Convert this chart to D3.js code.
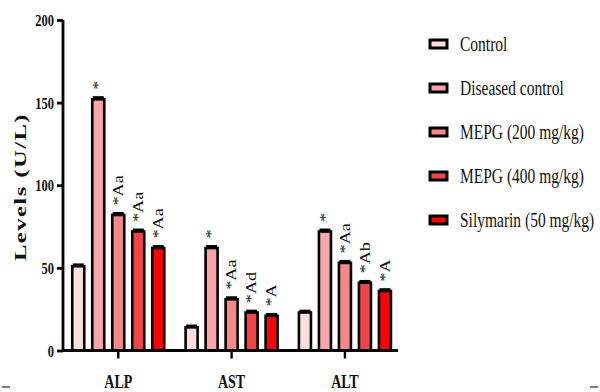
<!DOCTYPE html>
<html>
<head>
<meta charset="utf-8">
<script src="https://cdn.jsdelivr.net/npm/d3@7"></script>
<style>
  html, body { margin: 0; padding: 0; background: #fff; }
  svg { display: block; }
  text { font-family: "Liberation Serif", "Times New Roman", serif; fill: #111; }
</style>
</head>
<body>
<svg id="chart" width="600" height="392"></svg>
<script>
// Liver enzyme levels (U/L) by treatment group
const categories = ["ALP", "AST", "ALT"];
const groups = ["Control", "Diseased control", "MEPG (200 mg/kg)", "MEPG (400 mg/kg)", "Silymarin (50 mg/kg)"];
const controlValues   = [51, 14, 23];
const diseasedValues  = [152, 62, 72];
const mepg200Values   = [82, 31, 53];
const mepg400Values   = [72, 23, 41];
const silymarinValues = [62, 21, 36];
const seriesValues = [controlValues, diseasedValues, mepg200Values, mepg400Values, silymarinValues];
const seriesErrors = [[0.8, 0.8, 0.8], [1, 0.9, 0.9], [0.9, 0.9, 0.9], [0.9, 0.8, 0.8], [0.9, 0.8, 0.8]];
// significance marks per group (rows) and enzyme (columns)
const significance = [
  ["", "", ""],
  ["*", "*", "*"],
  ["*Aa", "*Aa", "*Aa"],
  ["*Aa", "*Ad", "*Ab"],
  ["*Aa", "*A", "*A"]
];
const yTicks = [0, 50, 100, 150, 200];
const colors = ["#fbdfe0", "#f6a6a9", "#f3878a", "#ee4547", "#f70404"];

const svg = d3.select("#chart");
const STRETCH = 1.3;

const y = d3.scaleLinear().domain([0, 200]).range([350.5, 20]);
const x = d3.scaleBand().domain(categories).range([61.6, 401.6]);
const xInner = d3.scaleBand().domain(groups).range([-50, 50]).paddingInner(0.4).paddingOuter(0.2);

// Bars
const rows = [];
categories.forEach((c, ci) => {
  groups.forEach((g, gi) => {
    rows.push({ cat: c, group: g, gi, value: seriesValues[gi][ci], err: seriesErrors[gi][ci], label: significance[gi][ci] });
  });
});

const barG = svg.append("g");
const bw = xInner.bandwidth();
barG.selectAll("rect.bar").data(rows).join("rect")
  .attr("class", "bar")
  .attr("x", d => x(d.cat) + x.bandwidth() / 2 + xInner(d.group))
  .attr("y", d => y(d.value))
  .attr("width", bw)
  .attr("height", d => y(0) - y(d.value))
  .attr("fill", d => colors[d.gi])
  .attr("stroke", "#000")
  .attr("stroke-width", 2.6);

// Error bars (upper)
const cx = d => x(d.cat) + x.bandwidth() / 2 + xInner(d.group) + bw / 2;
barG.selectAll("line.err").data(rows).join("line")
  .attr("class", "err")
  .attr("x1", cx).attr("x2", cx)
  .attr("y1", d => y(d.value)).attr("y2", d => y(d.value + d.err))
  .attr("stroke", "#000").attr("stroke-width", 2);
barG.selectAll("line.cap").data(rows).join("line")
  .attr("class", "cap")
  .attr("x1", d => cx(d) - bw / 2 + 0.5).attr("x2", d => cx(d) + bw / 2 - 0.5)
  .attr("y1", d => y(d.value + d.err)).attr("y2", d => y(d.value + d.err))
  .attr("stroke", "#000").attr("stroke-width", 3);

// Significance labels, vertical
barG.selectAll("text.sig").data(rows.filter(d => d.label)).join("text")
  .attr("class", "sig")
  .attr("transform", d => `translate(${cx(d)},${y(d.value + d.err) - 8}) scale(1,${STRETCH}) rotate(-90)`)
  .attr("dy", "0.33em")
  .attr("font-size", 14)
  .text(d => d.label);

// Y axis
const yAxis = svg.append("g")
  .attr("transform", "translate(63,0)")
  .call(d3.axisLeft(y).tickValues(yTicks).tickSize(6).tickSizeOuter(0).tickPadding(3));
yAxis.select(".domain").attr("stroke", "#000").attr("stroke-width", 2.8).attr("d", `M0,${y(200)}V${y(0) + 1.4}`);
yAxis.selectAll(".tick line").attr("stroke", "#000").attr("stroke-width", 2.8);
yAxis.selectAll(".tick text")
  .attr("font-family", "'Liberation Serif', serif")
  .attr("font-size", 12.5)
  .attr("font-weight", "bold")
  .attr("fill", "#111")
  .attr("dy", "0.34em")
  .attr("transform", `scale(1,${STRETCH})`);

// X axis
const xAxis = svg.append("g")
  .attr("transform", `translate(0,${y(0)})`)
  .call(d3.axisBottom(x).tickSize(8).tickSizeOuter(0));
xAxis.select(".domain").attr("stroke", "#000").attr("stroke-width", 2.8).attr("d", "M62,0H398");
xAxis.selectAll(".tick line").attr("stroke", "#000").attr("stroke-width", 2.4);
xAxis.selectAll(".tick text")
  .attr("font-family", "'Liberation Serif', serif")
  .attr("font-size", 14)
  .attr("font-weight", "bold")
  .attr("fill", "#111")
  .attr("y", 0).attr("dy", 0)
  .attr("transform", `translate(0,37.5) scale(1,1.3)`);

// Y axis title
svg.append("text")
  .attr("transform", `translate(20,187) scale(1,1.45) rotate(-90)`)
  .attr("text-anchor", "middle")
  .attr("dy", "0.35em")
  .attr("font-size", 17)
  .attr("font-weight", "bold")
  .attr("letter-spacing", 1)
  .text("Levels (U/L)");

// Legend
const legend = svg.append("g").selectAll("g").data(groups).join("g")
  .attr("transform", (d, i) => `translate(429,${44 + i * 44})`);
legend.append("rect")
  .attr("x", 1).attr("y", -4)
  .attr("width", 17).attr("height", 8)
  .attr("fill", (d, i) => colors[i])
  .attr("stroke", "#000").attr("stroke-width", 3);
legend.append("text")
  .attr("transform", `translate(31,0) scale(1,${STRETCH})`)
  .attr("dy", "0.33em")
  .attr("font-size", 15.5)
  .text(d => d);

// Frame corner marks along the bottom edge
svg.append("line").attr("x1", 2).attr("x2", 10).attr("y1", 387).attr("y2", 387).attr("stroke", "#222").attr("stroke-width", 1.2);
svg.append("line").attr("x1", 590).attr("x2", 598).attr("y1", 387).attr("y2", 387).attr("stroke", "#222").attr("stroke-width", 1.2);
</script>
</body>
</html>
